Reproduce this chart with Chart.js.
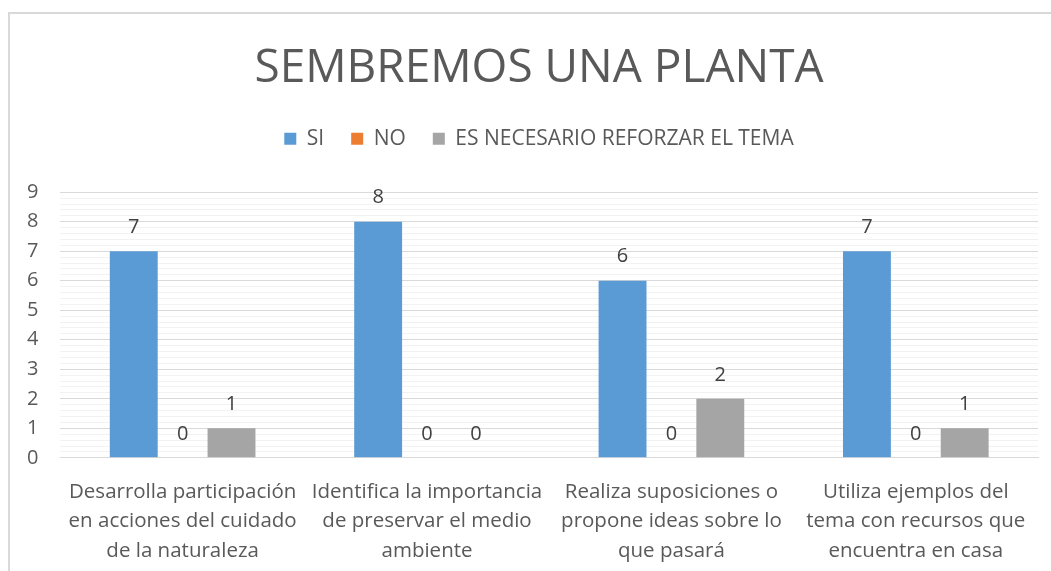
<!DOCTYPE html>
<html>
<head>
<meta charset="utf-8">
<script src="https://cdn.jsdelivr.net/npm/chart.js@4"></script>
<style>
	body { margin: 0; background: #fff; }
	#wrap { position: relative; width: 1051px; height: 571px; overflow: hidden; }
	#frame { position: absolute; left: 8px; top: 12px; width: 1100px; height: 600px; border-left: 2px solid #d9d9d9; border-top: 2px solid #d9d9d9; }
	canvas { position: absolute; left: 0; top: 0; }
</style>
</head>
<body>
<div id="wrap">
	<div id="frame"></div>
	<canvas id="barChart" width="1051" height="571"></canvas>
</div>
<script>
// chart data
const categories = [
	['Desarrolla participación', 'en acciones del cuidado', 'de la naturaleza'],
	['Identifica la importancia', 'de preservar el medio', 'ambiente'],
	['Realiza suposiciones o', 'propone ideas sobre lo', 'que pasará'],
	['Utiliza ejemplos del', 'tema con recursos que', 'encuentra en casa']
];
const siValues = [7, 8, 6, 7];
const noValues = [0, 0, 0, 0];
const reforzarValues = [1, 0, 2, 1];

const fontName = "'Open Sans', 'Noto Sans', sans-serif";
const textColor = '#595959';

function isWhole(v)
{
	return Math.abs(v - Math.round(v)) < 1e-6;
}

// draws the value above each bar
const valueLabels = {
	id: 'valueLabels',
	afterDatasetsDraw(chart) {
		const c = chart.ctx;
		c.save();
		c.font = `20px ${fontName}`;
		c.fillStyle = '#404040';
		c.textAlign = 'center';
		c.textBaseline = 'middle';
		chart.data.datasets.forEach((ds, i) => {
			const meta = chart.getDatasetMeta(i);
			meta.data.forEach((bar, j) => {
				c.fillText(ds.data[j], bar.x, bar.y - 24);
			});
		});
		c.restore();
	}
};

// extra room under the legend
const legendGap = {
	id: 'legendGap',
	beforeInit(chart) {
		const fit = chart.legend.fit;
		chart.legend.fit = function () {
			fit.bind(chart.legend)();
			this.height += 33;
		};
	}
};

const ctx = document.getElementById('barChart').getContext('2d');
const chart = new Chart(ctx, {
	type: 'bar',
	data: {
		labels: categories,
		datasets: [
			{ label: 'SI', data: siValues, backgroundColor: '#5b9bd5' },
			{ label: 'NO', data: noValues, backgroundColor: '#ed7d31' },
			{ label: 'ES NECESARIO REFORZAR EL TEMA', data: reforzarValues, backgroundColor: '#a5a5a5' }
		]
	},
	options: {
		responsive: false,
		animation: false,
		categoryPercentage: 0.6,
		barPercentage: 0.98,
		layout: { padding: { left: 5, right: -22, top: 41, bottom: -6 } },
		plugins: {
			title: {
				display: true,
				text: 'SEMBREMOS UNA PLANTA',
				color: textColor,
				font: { family: fontName, size: 46, weight: 'normal' },
				padding: { top: 0, bottom: 5 }
			},
			legend: {
				labels: {
					color: textColor,
					font: { family: fontName, size: 21 },
					boxWidth: 12,
					boxHeight: 12,
					padding: 27
				}
			},
			tooltip: { enabled: false }
		},
		scales: {
			x: {
				grid: { display: false },
				border: { color: '#d9d9d9', width: 1 },
				afterFit: (s) => { s.paddingLeft = 0; s.paddingRight = 13; },
				ticks: {
					color: textColor,
					font: { family: fontName, size: 20.5, lineHeight: 1.45 },
					padding: 11,
					maxRotation: 0,
					autoSkip: false
				}
			},
			y: {
				min: 0,
				max: 9,
				border: { display: false },
				grid: {
					color: (c) => isWhole(c.tick.value) ? '#d9d9d9' : '#f2f2f2',
					lineWidth: 1,
					drawTicks: false
				},
				ticks: {
					stepSize: 0.2,
					autoSkip: false,
					padding: 22,
					color: textColor,
					font: { family: fontName, size: 20 },
					callback: (v) => isWhole(v) ? Math.round(v) : ''
				}
			}
		}
	},
	plugins: [valueLabels, legendGap]
});
</script>
</body>
</html>
